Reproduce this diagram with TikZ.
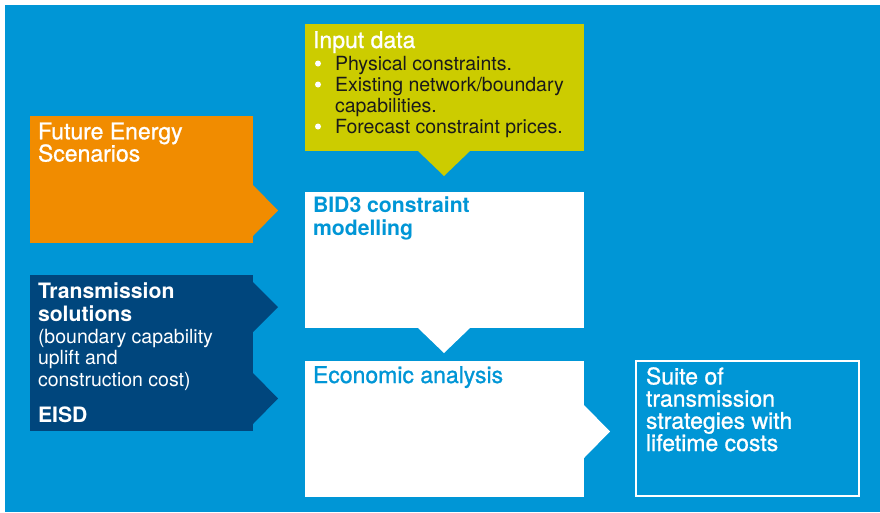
\documentclass[tikz,border=0pt]{standalone}
\usepackage{fontspec}
\setmainfont{TeX Gyre Heros}
\newfontfamily\medfont{TeX Gyre Heros}[FakeBold=1.0]
\definecolor{bgblue}{HTML}{0096D6}
\definecolor{fesorange}{HTML}{F18C00}
\definecolor{tsnavy}{HTML}{00467D}
\definecolor{inpgreen}{HTML}{CCCC00}
\definecolor{bullettext}{HTML}{1A1A1A}
\tikzset{
  box/.style={rectangle, inner sep=0pt, outer sep=0pt, anchor=north west},
  lbl/.style={inner sep=0pt, outer sep=0pt, anchor=base west, align=left},
  big/.style={font=\medfont\fontsize{23}{22.2}\selectfont},
  bigb/.style={font=\fontsize{21.2}{22.7}\selectfont\bfseries},
  small/.style={font=\fontsize{19.5}{21.5}\selectfont},
}
\begin{document}
\begin{tikzpicture}[x=1pt,y=-1pt]
\useasboundingbox (0,0) rectangle (880,512);
\fill[white] (0,0) rectangle (880,512);
\fill[bgblue] (5,5) rectangle (880,512);
% boxes
\node[box, fill=fesorange, minimum width=223pt, minimum height=127pt] (fes) at (30,116) {};
\node[box, fill=tsnavy, minimum width=223pt, minimum height=156pt] (ts) at (30,275) {};
\node[box, fill=inpgreen, minimum width=279pt, minimum height=127pt] (inp) at (305,24) {};
\node[box, fill=white, minimum width=279pt, minimum height=136pt] (bid) at (305,192) {};
\node[box, fill=white, minimum width=279pt, minimum height=136pt] (eco) at (305,361) {};
\node[box, draw=white, line width=2pt, minimum width=223pt, minimum height=135pt] (suite) at (636,361) {};
% arrow notches
\fill[fesorange] (fes.north east) ++(0,69) -- ++(25,25.5) -- ++(-25,25.5) -- cycle;
\fill[tsnavy] (ts.north east) ++(0,7) -- ++(25,25) -- ++(-25,25) -- cycle;
\fill[tsnavy] (ts.north east) ++(0,98) -- ++(25,25.5) -- ++(-25,25.5) -- cycle;
\fill[inpgreen] (inp.south west) ++(113,0) -- ++(26,25) -- ++(26,-25) -- cycle;
\fill[white] (bid.south west) ++(113,0) -- ++(26,25) -- ++(26,-25) -- cycle;
\fill[white] (eco.north east) ++(0,44) -- ++(26,26.5) -- ++(-26,26.5) -- cycle;
% texts (anchored at the baseline of their last line)
\node[lbl, big, text=white] (fest) at (38,161.5) {Future Energy\\Scenarios};
\node[lbl, bigb, text=white] (tst) at (38,321) {Transmission\\solutions};
\node[lbl, small, text=white] (tss) at (38,386) {(boundary capability\\uplift and\\construction cost)};
\node[lbl, bigb, text=white] (eisd) at (38,422) {EISD};
\node[lbl, big, text=white] (inpt) at (313,48) {Input data};
\node[lbl, small, text=bullettext] (b1) at (335,70) {Physical constraints.};
\node[lbl, small, text=bullettext] (b2) at (335,112.5) {Existing network/boundary\\capabilities.};
\node[lbl, small, text=bullettext] (b3) at (335,133) {Forecast constraint prices.};
\fill[white] (b1.base west) ++(-17,-6.5) circle (3pt);
\fill[white] (b2.base west) ++(-17,-28) circle (3pt);
\fill[white] (b3.base west) ++(-17,-6.5) circle (3pt);
\node[lbl, bigb, text=bgblue] (bidt) at (313,235.5) {BID3 constraint\\modelling};
\node[lbl, big, text=bgblue] (ecot) at (313,383) {Economic analysis};
\node[lbl, big, text=white] (suitet) at (646,451) {Suite of\\transmission\\strategies with\\lifetime costs};
\end{tikzpicture}
\end{document}
